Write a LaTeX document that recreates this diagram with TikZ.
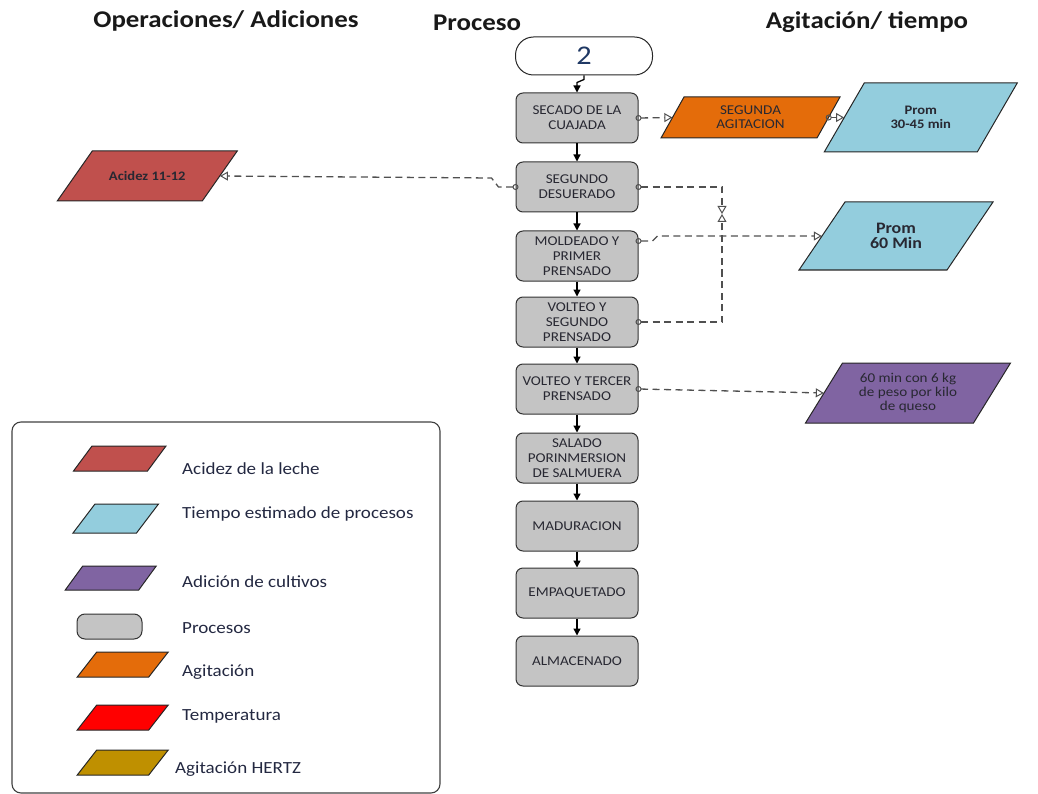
\documentclass[tikz,border=0pt]{standalone}
\usepackage{fontspec}
\setmainfont{Carlito}[FakeStretch=1.12]
\usetikzlibrary{arrows.meta,calc}

\definecolor{acid}{RGB}{192,80,77}
\definecolor{tiempo}{RGB}{147,205,221}
\definecolor{cultivo}{RGB}{128,100,162}
\definecolor{agita}{RGB}{228,108,10}
\definecolor{temp}{RGB}{255,0,0}
\definecolor{hertz}{RGB}{191,144,0}
\definecolor{procgray}{RGB}{196,196,196}
\definecolor{ink}{RGB}{40,40,50}
\definecolor{legink}{RGB}{35,40,65}
\definecolor{navy}{RGB}{31,56,100}
\definecolor{linkgray}{RGB}{80,80,80}

\tikzset{
  pshape/.style={draw=black!85, line width=1pt, line join=miter},
  ptext/.style={inner sep=0pt, align=center, text=ink},
  f13/.style={font=\fontsize{13.5}{14}\selectfont},
  f13b/.style={font=\fontsize{13}{14}\selectfont\bfseries},
  f16b/.style={font=\fontsize{16}{15.5}\selectfont\bfseries},
  fleg/.style={font=\fontsize{12.5}{12}\selectfont},
  procbox/.style={draw=black!80, fill=procgray, rounded corners=7pt,
    minimum width=122pt, minimum height=50pt, inner sep=1pt, line width=1pt,
    font=\fontsize{13.5}{15}\selectfont, text=ink, align=center},
  terminal/.style={draw=black!85, fill=white, rounded corners=18pt,
    minimum width=137pt, minimum height=38pt, line width=1pt,
    font=\fontsize{27}{27}\selectfont, text=navy},
  title/.style={font=\fontsize{24}{24}\selectfont\bfseries, text=black!90, inner sep=0pt},
  flow/.style={-{Triangle[length=7pt,width=7pt]}, line width=1.3pt, black},
  linkline/.style={draw=linkgray, line width=1.3pt, dash pattern=on 7pt off 4.5pt,
    {Circle[open,length=6pt,width=6pt,line width=1pt]}-{Triangle[open,length=8pt,width=9pt,line width=1pt]},
    shorten <=-3pt},
  legtext/.style={anchor=west, inner sep=0pt, text=legink,
    font=\fontsize{17}{17}\selectfont}
}

% parallelogram: name, cx, cy, width, height, slant, fill, text style, text
\newcommand\paral[9]{%
  \draw[pshape, fill=#7] (#2-#4/2-#6/2,#3+#5/2) -- (#2+#4/2-#6/2,#3+#5/2)
    -- (#2+#4/2+#6/2,#3-#5/2) -- (#2-#4/2+#6/2,#3-#5/2) -- cycle;
  \node[ptext, minimum width=#4pt, minimum height=#5pt, #8] (#1) at (#2,#3) {#9};
}

\begin{document}
\begin{tikzpicture}[x=1pt, y=-1pt]
\useasboundingbox (0,0) rectangle (1038,794);

% column headings
\node[title, anchor=base] (hOp) at (226,28) {Operaciones/ Adiciones};
\node[title, anchor=base] (hPr) at (477,31) {Proceso};
\node[title, anchor=base] (hAg) at (867,29) {Agitación/ tiempo};

% process column
\node[terminal] (term) at (584,56) {2};
\node[procbox] (secado) at (577,118) {SECADO DE LA\\CUAJADA};
\node[procbox] (desu)   at (577,187) {SEGUNDO\\DESUERADO};
\node[procbox] (mold)   at (577,256) {MOLDEADO Y\\PRIMER\\PRENSADO};
\node[procbox] (volt2)  at (577,322) {VOLTEO Y\\SEGUNDO\\PRENSADO};
\node[procbox] (volt3)  at (577,389) {VOLTEO Y TERCER\\PRENSADO};
\node[procbox] (sal)    at (577,458) {SALADO\\PORINMERSION\\DE SALMUERA};
\node[procbox] (mad)    at (577,526) {MADURACION};
\node[procbox] (emp)    at (577,593) {EMPAQUETADO};
\node[procbox] (alm)    at (577,661) {ALMACENADO};

\draw[flow] (term.south) -- ++(0,4) -- ([yshift=10pt]secado.north) -- (secado.north);
\draw[flow] (secado) -- (desu);
\draw[flow] (desu) -- (mold);
\draw[flow] (mold) -- (volt2);
\draw[flow] (volt2) -- (volt3);
\draw[flow] (volt3) -- (sal);
\draw[flow] (sal) -- (mad);
\draw[flow] (mad) -- (emp);
\draw[flow] (emp) -- (alm);

% side parallelograms
\paral{acidez}{147.25}{176}{145}{50}{35}{acid}{f13b}{Acidez 11-12}
\paral{segag}{750.5}{117.5}{156}{41}{23}{agita}{f13}{SEGUNDA\\AGITACION}
\paral{prom30}{920.75}{117.5}{153}{69}{40}{tiempo}{f13b}{Prom\\30-45 min}
\paral{prom60}{896}{236}{148}{68}{46}{tiempo}{f16b}{Prom\\60 Min}
\paral{peso}{908}{393}{168}{60}{37}{cultivo}{f13}{60 min con 6 kg\\de peso por kilo\\de queso}

% dashed links
\coordinate (meet) at (722,214);
\draw[linkline] (secado.east) -- (segag.west);
\draw[linkline] (segag.east) -- (prom30.west);
\draw[linkline] (desu.west) -- ++(-17,0) -- ++(-7,-9) -- (acidez.east);
\draw[linkline] (desu.east) -| (meet);
\draw[linkline] (volt2.east) -| (meet);
\draw[linkline] ($(mold.east)+(0,-15)$) -- ++(14,0) -- ++(5,-5) -- (prom60.west);
\draw[linkline] (volt3.east) -- (peso.west);

% legend
\draw[draw=black!75, line width=1.1pt, rounded corners=9pt] (12,422) rectangle (440,793);
\paral{lgA}{119.75}{458.5}{74}{25}{18.5}{acid}{fleg}{}
\paral{lgB}{115.75}{518.5}{63.5}{29}{22}{tiempo}{fleg}{}
\paral{lgC}{110.75}{578}{73.5}{24}{17.5}{cultivo}{fleg}{}
\node[procbox, minimum width=65pt, minimum height=25pt, rounded corners=8pt] (lgD) at (109.5,626.5) {};
\paral{lgE}{122.75}{664.5}{71.5}{25}{19.5}{agita}{fleg}{}
\paral{lgF}{122.75}{717.5}{71.5}{25}{19.5}{temp}{fleg}{}
\paral{lgG}{122.75}{762.5}{71.5}{25}{19.5}{hertz}{fleg}{}

\node[legtext] (ltA) at (182,469) {Acidez de la leche};
\node[legtext] (ltB) at (182,514) {Tiempo estimado de procesos};
\node[legtext] (ltC) at (182,582) {Adición de cultivos};
\node[legtext] (ltD) at (182,628) {Procesos};
\node[legtext] (ltE) at (182,672) {Agitación};
\node[legtext] (ltF) at (182,716) {Temperatura};
\node[legtext] (ltG) at (175,769) {Agitación HERTZ};
\end{tikzpicture}
\end{document}
